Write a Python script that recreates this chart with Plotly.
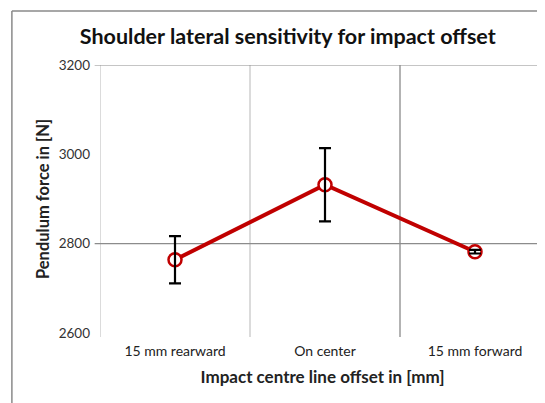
import plotly.graph_objects as go

categories = ["15 mm rearward", "On center", "15 mm forward"]
force_mean = [2764, 2932, 2782]
force_err = [53, 82, 4]
y_ticks = [2600, 2800, 3000, 3200]

x_idx = list(range(len(categories)))

fig = go.Figure()
fig.add_trace(go.Scatter(
    x=x_idx, y=force_mean, mode="lines+markers",
    line=dict(color="#C00000", width=4),
    marker=dict(symbol="circle", size=13, color="white",
                line=dict(color="#C00000", width=2.5)),
    showlegend=False, hoverinfo="skip"))
fig.add_trace(go.Scatter(
    x=x_idx, y=force_mean, mode="markers",
    marker=dict(size=1, color="rgba(0,0,0,0)"),
    error_y=dict(type="data", array=force_err, visible=True,
                 color="black", thickness=2.2, width=6),
    showlegend=False, hoverinfo="skip"))

# gridlines / frame
for xv, col in [(-0.5, "#cfcfcf"), (0.5, "#cfcfcf"), (1.5, "#9a9a9a")]:
    fig.add_shape(type="line", xref="x", yref="paper", x0=xv, x1=xv,
                  y0=-0.015, y1=1, line=dict(color=col, width=1.5), layer="below")
for yv in [2800, 3200]:
    fig.add_shape(type="line", xref="paper", yref="y", x0=-0.012, x1=1,
                  y0=yv, y1=yv, line=dict(color="#8c8c8c", width=1.2), layer="below")

# outer chart border
fig.add_shape(type="line", xref="paper", yref="paper", x0=-0.198, x1=1.01,
              y0=1.2015, y1=1.2015, line=dict(color="#8a8a8a", width=1.5))
fig.add_shape(type="line", xref="paper", yref="paper", x0=-0.198, x1=-0.198,
              y0=-0.3, y1=1.2015, line=dict(color="#8a8a8a", width=1.5))

fig.update_layout(
    width=537, height=395,
    margin=dict(l=92, r=0, t=57, b=70, autoexpand=False),
    paper_bgcolor="white", plot_bgcolor="white",
    font=dict(family="Lato, sans-serif", color="#333"),
    title=dict(text="<b>Shoulder lateral sensitivity for impact offset</b>",
               x=0.521, xanchor="center", y=0.929, yanchor="middle",
               font=dict(size=21.5, color="#111", family="Lato, sans-serif")),
    xaxis=dict(range=[-0.5, 2.4667], tickmode="array", tickvals=x_idx,
               ticktext=categories, showgrid=False, zeroline=False,
               showline=False, ticks="", automargin=False,
               ticklabelstandoff=8,
               tickfont=dict(size=14, color="#222"),
               title=dict(text="<b>Impact centre line offset in [mm]</b>",
                          font=dict(size=17, color="#222"), standoff=13)),
    yaxis=dict(range=[2600, 3200], tickmode="array", tickvals=y_ticks,
               showgrid=False, zeroline=False, showline=False, ticks="",
               automargin=False, ticklabelstandoff=9,
               tickfont=dict(size=13.5, color="#333"),
               title=dict(text="<b>Pendulum force in [N]</b>",
                          font=dict(size=16.5, color="#222"), standoff=4)),
)

fig.write_html("out.html")
